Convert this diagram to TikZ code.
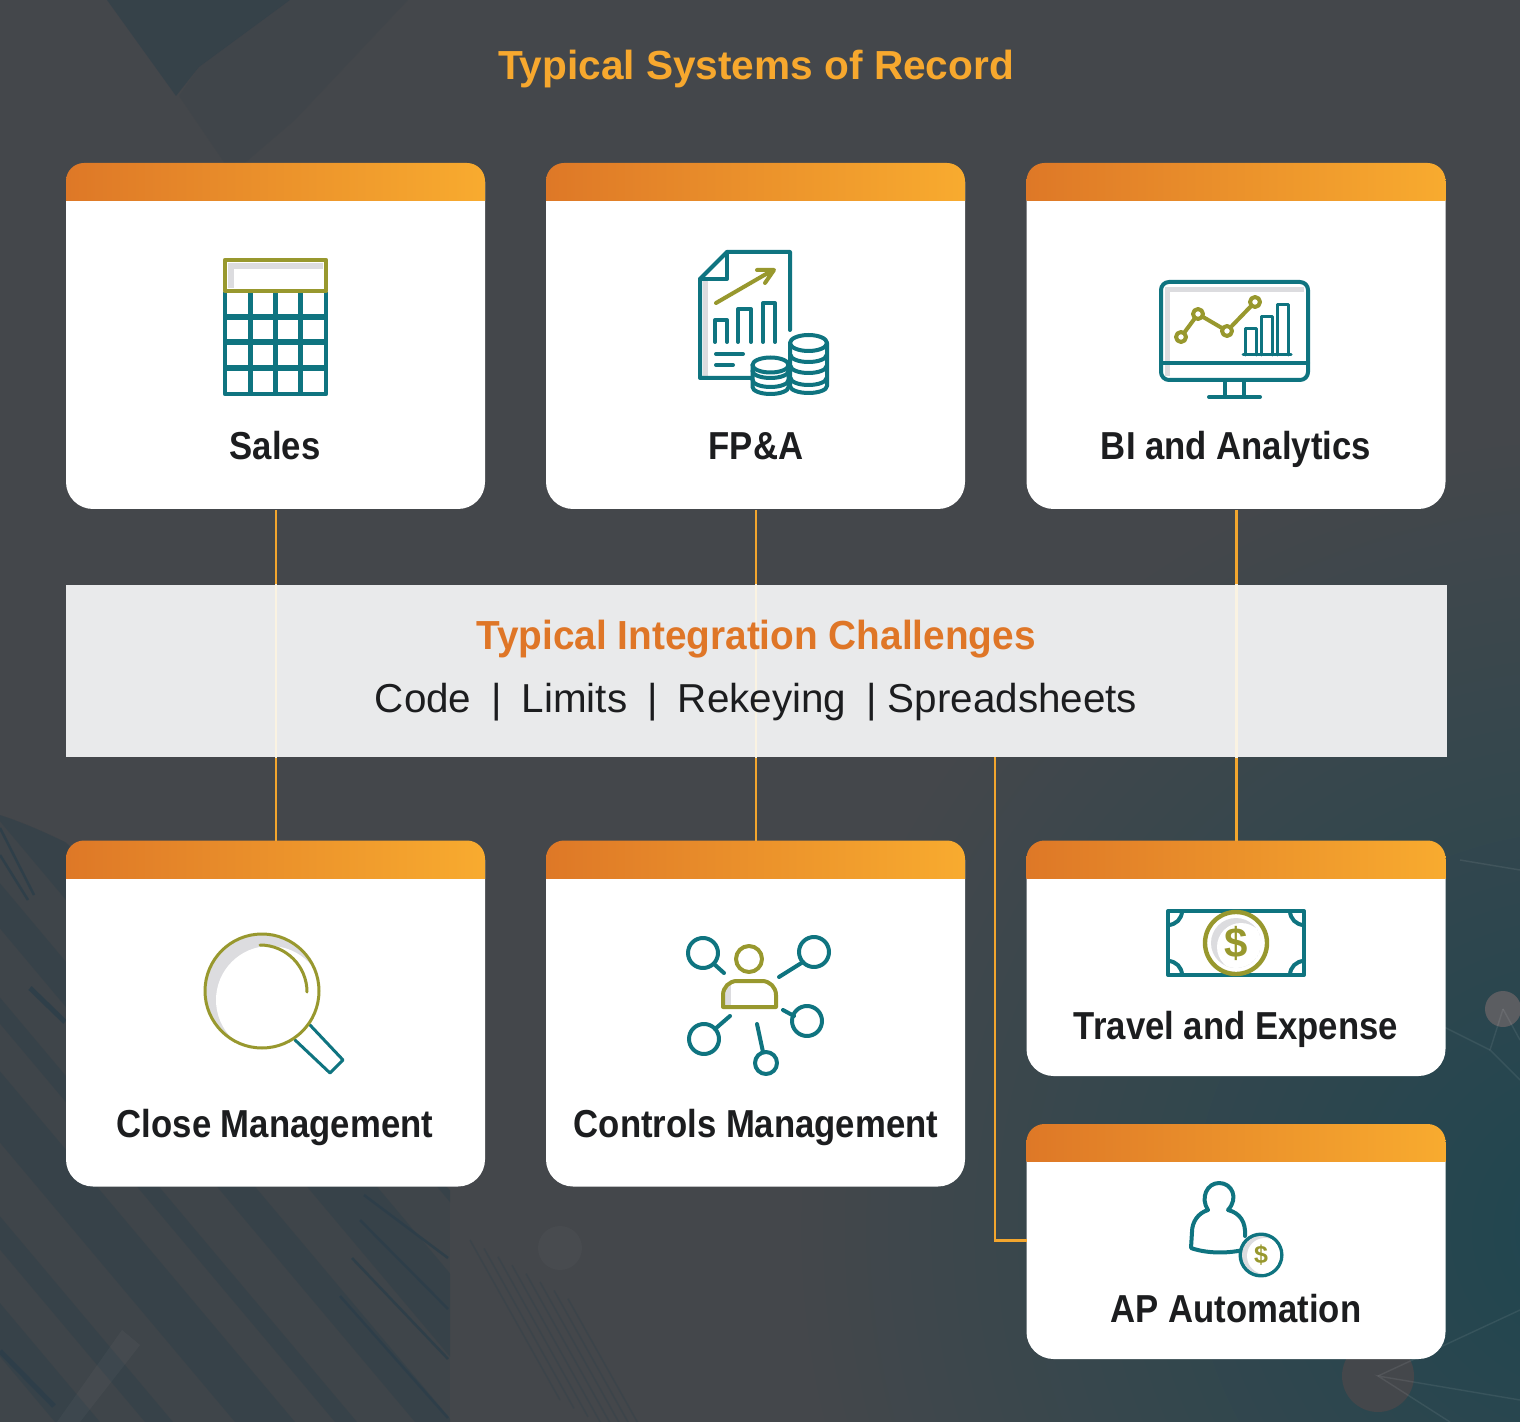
\documentclass[tikz,border=0pt]{standalone}
\usepackage{fontspec}
\setmainfont{Liberation Sans}
\newfontfamily\titlefont{Liberation Sans Bold}
\newfontfamily\chalfont[FakeStretch=0.955]{Liberation Sans Bold}
\newfontfamily\labelfont[FakeStretch=0.89]{Liberation Sans Bold}
\newfontfamily\rowfont{Liberation Sans}
\definecolor{bgdark}{HTML}{44474B}
\definecolor{bgteal}{HTML}{1F4650}
\definecolor{bgslate}{HTML}{2C3E49}
\definecolor{hdrL}{HTML}{DE7827}
\definecolor{hdrR}{HTML}{F8AB2F}
\definecolor{teal}{HTML}{0F7480}
\definecolor{olive}{HTML}{98982E}
\definecolor{shadec}{HTML}{DCDCDF}
\definecolor{bandc}{HTML}{E9EAEB}
\definecolor{linkc}{HTML}{F3A62E}
\definecolor{creamc}{HTML}{FAF3E2}
\definecolor{titlec}{HTML}{F7A82E}
\definecolor{chal}{HTML}{DF7627}
\definecolor{ink}{HTML}{1C1D1F}
\tikzset{
  x=0.5pt,y=-0.5pt,
  card/.style={inner sep=0pt,minimum width=209.5pt,anchor=north west},
  cardtitle/.style={font=\labelfont\fontsize{19.5}{22}\selectfont,text=ink,inner sep=0pt,anchor=base},
  linkline/.style={draw=linkc,line width=1.3pt},
  tl/.style={draw=teal,line width=2pt,line join=round,line cap=round},
  ol/.style={draw=olive,line width=2pt,line join=round,line cap=round},
  thin tl/.style={draw=teal,line width=1.5pt,line join=round,line cap=round},
  thin ol/.style={draw=olive,line width=1.5pt,line join=round,line cap=round},
  slab/.style={fill=bgslate,fill opacity=.38},
  streak/.style={draw=bgslate,draw opacity=.8,line width=1.3pt},
  net/.style={draw=white,draw opacity=.08,line width=.7pt},
}
\newcommand{\makecard}[4]{% name, x, y, height px
  \node[card,minimum height=#4*0.5pt] (#1) at (#2,#3) {};
  \begin{scope}
    \clip (#2,#3+20) rectangle (#2+419,#3+#4);
    \fill[white,rounded corners=13.5pt] (#2,#3-40) rectangle (#2+419,#3+#4);
  \end{scope}
  \begin{scope}
    \clip[rounded corners=9pt] (#2,#3) rectangle (#2+419,#3+70);
    \shade[left color=hdrL,right color=hdrR] (#2,#3) rectangle (#2+419,#3+37.5);
  \end{scope}
}
\newcommand{\coinarc}[2]{\draw[tl] (#1-18,#2) arc[start angle=180,end angle=0,x radius=18,y radius=7];}
\begin{document}
\begin{tikzpicture}
\useasboundingbox (0,0) rectangle (1520,1422);
% background
\fill[bgdark] (0,0) rectangle (1520,1422);
\begin{scope}
\clip (0,0) rectangle (1520,1422);
\shade[inner color=bgteal,outer color=bgdark] (1590,1230) circle (800);
% bottom-left building
\begin{scope}
\clip (0,815) .. controls (30,825) and (50,835) .. (65,842) -- (450,1190) -- (450,1422) -- (0,1422) -- cycle;
\fill[bgslate,fill opacity=.18] (0,800) rectangle (450,1422);
\foreach \a/\w in {-300/45,-210/28,-120/60,-20/22,60/38,150/70,280/24} {
  \fill[slab] (\a,1000) -- (\a+\w,1000) -- (\a+\w+355,1422) -- (\a+355,1422) -- cycle;
  \fill[slab] (\a,1000) -- (\a+\w,1000) -- (\a+\w-178,788) -- (\a-178,788) -- cycle;
}
\end{scope}
\fill[white,fill opacity=.03] (57,1422) -- (122,1330) -- (140,1345) -- (80,1422) -- cycle;
\draw[streak] (0,828) -- (34,895);
\draw[streak] (0,855) -- (28,900);
\draw[streak,line width=2.5pt] (30,988) -- (65,1022);
\draw[streak,line width=2.5pt] (0,1351) -- (54,1406);
\draw[streak] (340,1296) -- (448,1418);
\draw[streak] (352,1258) -- (448,1359);
\draw[streak] (360,1220) -- (448,1309);
\draw[streak] (364,1195) -- (448,1258);
\foreach \d in {0,14,...,100} {
  \draw[draw=bgslate,draw opacity=.3,line width=.8pt] (470+\d,1240+\d*.6) -- (560+\d,1400+\d*.6);
}
% top-left shapes
\fill[bgslate,fill opacity=.55] (107,0) -- (176,96) -- (199,67) -- (290,0) -- cycle;
\fill[bgslate,fill opacity=.14] (179,96) -- (232,174) -- (295,120) -- (408,0) -- (290,0) -- (199,67) -- cycle;
% right network
\fill[white,fill opacity=.025] (560,1248) circle (22);
\fill[bgdark] (1378,1376) circle (36);
\fill[bgdark!88!white] (1503,1009) circle (18);
\draw[net] (1503,1009) -- (1490,1050) -- (1520,1080);
\draw[net] (1503,1009) -- (1520,1040);
\draw[net] (1430,1020) -- (1490,1050);
\draw[net] (1460,860) -- (1520,870);
\draw[net] (1520,1310) -- (1378,1376);
\draw[net] (1450,1422) -- (1378,1376) -- (1520,1400);
\end{scope}
% cards
\makecard{sales}{66}{163}{346}
\makecard{fpa}{546}{163}{346}
\makecard{bi}{1026.5}{163}{346}
\makecard{close}{66}{840.5}{346}
\makecard{ctrl}{546}{840.5}{346}
\makecard{travel}{1026.5}{840.5}{235.5}
\makecard{ap}{1026.5}{1124}{235}
% band and connectors
\node[inner sep=0pt,minimum width=690pt,minimum height=86pt,anchor=north west] (band) at (66,584.5) {};
\coordinate (apin) at (1026.5,1240.5);
\coordinate (apturn) at (995,1240.5);
\coordinate (bandout) at (995,756.5);
\draw[linkline] (sales.south) -- (close.north);
\draw[linkline] (fpa.south) -- (ctrl.north);
\draw[linkline] (bi.south) -- (travel.north);
\draw[linkline] (bandout) -- (apturn) -- (apin);
\fill[bandc] (band.north west) rectangle (band.south east);
\begin{scope}
\clip (band.north west) rectangle (band.south east);
\draw[draw=creamc,line width=1.3pt] (sales.south) -- (close.north);
\draw[draw=creamc,line width=1.3pt] (fpa.south) -- (ctrl.north);
\draw[draw=creamc,line width=1.3pt] (bi.south) -- (travel.north);
\end{scope}
% text
\node[inner sep=0pt,anchor=base,text=titlec,font=\titlefont\fontsize{20.3}{24}\selectfont] (title) at (756,80) {Typical Systems of Record};
\node[inner sep=0pt,anchor=base,text=chal,font=\chalfont\fontsize{20.3}{24}\selectfont] (chalt) at (756,649) {Typical Integration Challenges};
\node[inner sep=0pt,anchor=base,text=ink,font=\rowfont\fontsize{20.2}{24}\selectfont] (chalr) at (756,712) {Code\hspace{10pt}|\hspace{10pt}Limits\hspace{10pt}|\hspace{10pt}Rekeying\hspace{10pt}|\hspace{5.5pt}Spreadsheets};
\node[cardtitle] (salesL) at (275,460) {Sales};
\node[cardtitle] (fpaL) at (756,460) {FP\&A};
\node[cardtitle] (biL) at (1236,460) {BI and Analytics};
\node[cardtitle] (closeL) at (275,1137) {Close Management};
\node[cardtitle] (ctrlL) at (756,1137) {Controls Management};
\node[cardtitle] (travelL) at (1236,1039) {Travel and Expense};
\node[cardtitle] (apL) at (1236,1322) {AP Automation};
% calculator
\foreach \x in {250.5,275.5,300.5} \draw[draw=teal,line width=2.6pt] (\x,292) -- (\x,394);
\foreach \y in {317,342,368} \draw[draw=teal,line width=2.6pt] (225,\y) -- (326,\y);
\draw[draw=teal,line width=2.3pt,line join=round] (225,292) -- (225,394) -- (326,394) -- (326,292);
\fill[shadec] (228,263) rectangle (323,269);
\fill[shadec] (228,263) rectangle (234,288);
\draw[draw=olive,line width=2.3pt,line join=round] (225,260) rectangle (326,291);
% FP&A
\fill[shadec] (703,280) rectangle (708,376);
\draw[tl] (790,330) -- (790,252) -- (727,252) -- (700,279) -- (700,378) -- (752,378);
\draw[tl] (727,252) -- (727,279) -- (700,279);
\draw[ol] (716,303) -- (773,270) (757,270) -- (774,270) -- (765,283);
\draw[tl] (715,342) -- (715,320) -- (727,320) -- (727,342);
\draw[tl] (738,342) -- (738,309) -- (751,309) -- (751,342);
\draw[tl] (763,342) -- (763,303) -- (775,303) -- (775,342);
\draw[tl] (716,354) -- (743,354) (716,365) -- (733,365);
\draw[tl,fill=white] (752.5,365) -- (752.5,387) arc[start angle=180,end angle=0,x radius=18,y radius=7] -- (788.5,365) -- cycle;
\draw[tl,fill=white] (790,343) -- (790,386) arc[start angle=180,end angle=0,x radius=18.5,y radius=7] -- (827,343) -- cycle;
\coinarc{770.5}{371}
\coinarc{770.5}{380}
\coinarc{808.5}{355}
\coinarc{808.5}{366}
\coinarc{808.5}{378}
\draw[tl,fill=white] (770.5,365) ellipse[x radius=18,y radius=7.5];
\draw[tl,fill=white] (808.5,343) ellipse[x radius=18.5,y radius=8];
% BI monitor
\fill[shadec] (1166,287) rectangle (1304,292);
\fill[shadec] (1165,287) rectangle (1170,376);
\draw[tl,rounded corners=4pt] (1161,282) rectangle (1308,380);
\draw[tl] (1161,363) -- (1308,363);
\draw[tl] (1225,381) -- (1225,397) (1244,381) -- (1244,397) (1209,397) -- (1260,397);
\draw[thin tl] (1245,355) -- (1245,329) -- (1256,329) -- (1256,355);
\draw[thin tl] (1261,355) -- (1261,317) -- (1272,317) -- (1272,355);
\draw[thin tl] (1277,355) -- (1277,305) -- (1288,305) -- (1288,355);
\draw[thin tl] (1243,355) -- (1291,355);
\draw[ol] (1181,337) -- (1198,314) -- (1227,331) -- (1255,302);
\foreach \p in {(1181,337),(1198,314),(1227,331),(1255,302)} \draw[ol,fill=white] \p circle (5);
% magnifier
\draw[thin tl] (295,1040) -- (330,1073) -- (343,1060) -- (310,1025);
\begin{scope}
\clip (262,991) circle (57);
\fill[shadec] (262,991) circle (57);
\fill[white] (270,1000) circle (54);
\end{scope}
\draw[thin ol] (262,991) circle (57);
\draw[thin ol] (260,945) arc[start angle=270,end angle=360,radius=47];
% controls
\draw[ol] (749,959) circle (13);
\begin{scope}
\clip (723,1007) -- (723,995) arc[start angle=180,end angle=270,radius=14] -- (762,981) arc[start angle=270,end angle=360,radius=14] -- (776,1007) -- cycle;
\fill[shadec] (723,981) rectangle (731,1007);
\end{scope}
\draw[ol] (723,1007) -- (723,995) arc[start angle=180,end angle=270,radius=14] -- (762,981) arc[start angle=270,end angle=360,radius=14] -- (776,1007) -- cycle;
\draw[tl] (703,953) circle (15);
\draw[tl] (714,964) -- (724,973);
\draw[tl] (814,952) circle (15);
\draw[tl] (803,962) -- (779,977);
\draw[tl] (807,1021) circle (15);
\draw[tl] (794,1016) -- (783,1010);
\draw[tl] (704,1039) circle (15);
\draw[tl] (715,1029) -- (730,1016);
\draw[tl] (766,1063) circle (11);
\draw[tl] (763,1052) -- (757,1024);
% bill
\draw[tl] (1168,911) rectangle (1304,975);
\draw[tl] (1182,911) arc[start angle=0,end angle=90,radius=14];
\draw[tl] (1290,911) arc[start angle=180,end angle=90,radius=14];
\draw[tl] (1182,975) arc[start angle=0,end angle=-90,radius=14];
\draw[tl] (1290,975) arc[start angle=180,end angle=270,radius=14];
\fill[white] (1236,943) circle (31);
\begin{scope}
\clip (1236,943) circle (25);
\fill[shadec] (1236,943) circle (25);
\fill[white] (1241,947) circle (24);
\end{scope}
\draw[draw=olive,line width=2.2pt] (1236,943) circle (31);
\node[inner sep=0pt,text=olive,font=\titlefont\fontsize{21}{24}\selectfont] (billd) at (1236,943) {\$};
% AP person
\draw[tl] (1208,1210) .. controls (1200,1198) and (1207,1183) .. (1219,1183) .. controls (1232,1183) and (1239,1198) .. (1228,1210) .. controls (1240,1213) and (1246,1222) .. (1245,1236) (1208,1210) .. controls (1198,1213) and (1192,1222) .. (1192,1232) -- (1191,1248) .. controls (1205,1253) and (1225,1254) .. (1243,1250);
\draw[tl,fill=white] (1261,1255) circle (20.5);
\begin{scope}
\clip (1261,1255) circle (19);
\fill[shadec] (1261,1255) circle (19);
\fill[white] (1265,1256) circle (18);
\end{scope}
\node[inner sep=0pt,text=olive,font=\titlefont\fontsize{12.5}{14}\selectfont] (apd) at (1261,1255) {\$};
\end{tikzpicture}
\end{document}
